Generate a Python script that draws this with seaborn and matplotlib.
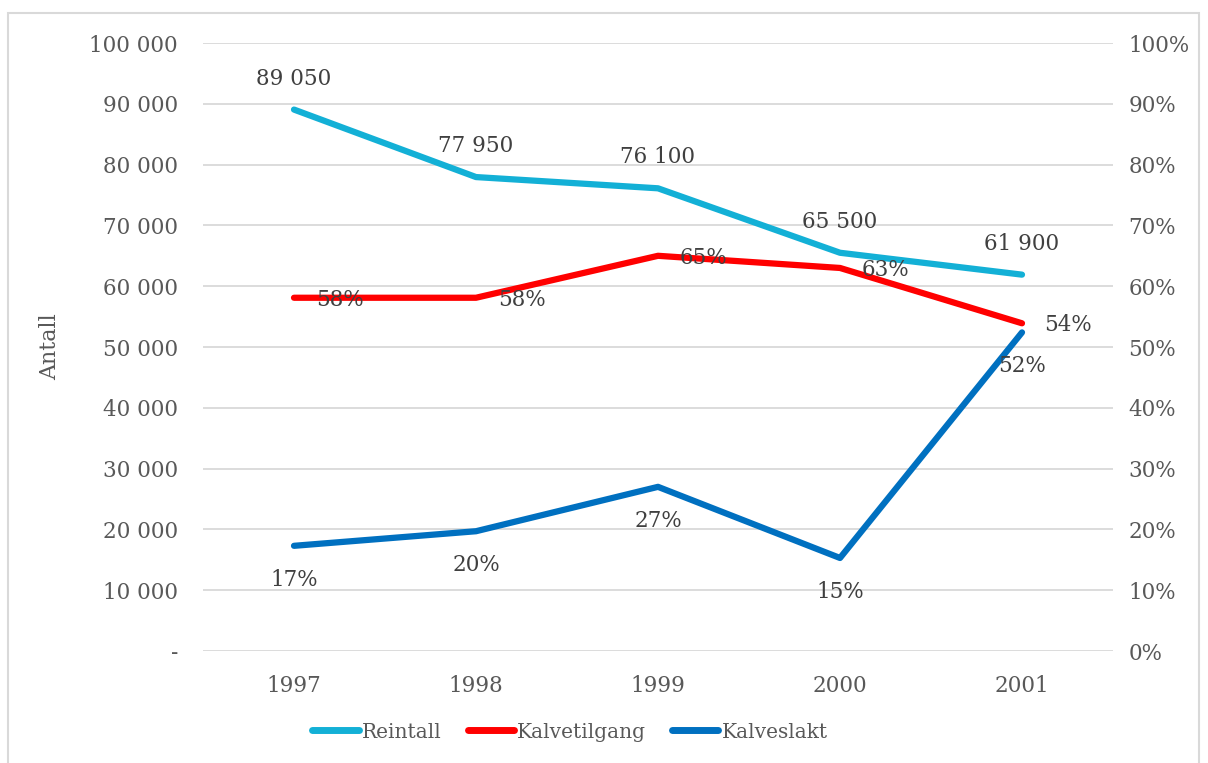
import matplotlib
matplotlib.use("Agg")
import matplotlib.pyplot as plt
import matplotlib.patches as mpatches
import seaborn as sns
import pandas as pd

years = ["1997", "1998", "1999", "2000", "2001"]
reintall = [89050, 77950, 76100, 65500, 61900]
kalvetilgang = [58.1, 58.1, 65.0, 63.0, 53.9]
kalveslakt = [17.3, 19.7, 27.0, 15.3, 52.4]

c_rein = "#13B0D6"
c_tilg = "#FF0000"
c_slakt = "#0070C0"
txt = "#595959"
lab = "#404040"

sns.set_theme(style="white")
plt.rcParams["font.family"] = ["DejaVu Serif"]

df = pd.DataFrame({"year": years, "Reintall": reintall,
                   "Kalvetilgang": kalvetilgang, "Kalveslakt": kalveslakt})
df["x"] = range(len(years))

fig = plt.figure(figsize=(12.08, 7.63), dpi=100)
ax = fig.add_axes([203 / 1208, 1 - 651 / 763, 910 / 1208, 608 / 763])
ax2 = ax.twinx()

sns.lineplot(data=df, x="x", y="Reintall", ax=ax, color=c_rein, linewidth=4.5,
             solid_capstyle="round", label="Reintall", legend=False)
sns.lineplot(data=df, x="x", y="Kalvetilgang", ax=ax2, color=c_tilg, linewidth=4.5,
             solid_capstyle="round", label="Kalvetilgang", legend=False)
sns.lineplot(data=df, x="x", y="Kalveslakt", ax=ax2, color=c_slakt, linewidth=4.5,
             solid_capstyle="round", label="Kalveslakt", legend=False)

ax.set_xlim(-0.5, len(years) - 0.5)
ax.set_ylim(0, 100000)
ax2.set_ylim(0, 100)
ax.set_yticks(range(0, 100001, 10000))
ax.set_yticklabels(["-"] + [f"{v:,}".replace(",", " ") for v in range(10000, 100001, 10000)])
ax2.set_yticks(range(0, 101, 10))
ax2.set_yticklabels([f"{v}%" for v in range(0, 101, 10)])
ax.set_xticks(df["x"])
ax.set_xticklabels(years)
ax.grid(axis="y", color="#D9D9D9", linewidth=1.3)
ax.set_axisbelow(True)
ax.set_xlabel("")
ax.set_ylabel("Antall", fontsize=16, color=txt, labelpad=20)
ax2.set_ylabel("")
for a in (ax, ax2):
    for s in a.spines.values():
        s.set_visible(False)
    a.tick_params(length=0, labelsize=15.5, colors=txt)
ax.tick_params(axis="y", pad=18)
ax.tick_params(axis="x", pad=17)
ax2.tick_params(axis="y", pad=11)

for i, v in enumerate(reintall):
    ax.annotate(f"{v:,}".replace(",", " "), (i, v), xytext=(0, 31),
                textcoords="offset pixels", ha="center", va="center",
                fontsize=15.5, color=lab)
for i, v in enumerate(kalvetilgang):
    ax2.annotate(f"{round(v)}%", (i, v), xytext=(22, -2),
                 textcoords="offset pixels", ha="left", va="center",
                 fontsize=15.5, color=lab)
for i, v in enumerate(kalveslakt):
    ax2.annotate(f"{round(v)}%", (i, v), xytext=(0, -34),
                 textcoords="offset pixels", ha="center", va="center",
                 fontsize=15.5, color=lab)

h1, l1 = ax.get_legend_handles_labels()
h2, l2 = ax2.get_legend_handles_labels()
leg = fig.legend(h1 + h2, l1 + l2, loc="center", bbox_to_anchor=(570 / 1208, 1 - 732 / 763),
                 ncol=3, frameon=False, fontsize=14.5, handlelength=2.3, handletextpad=0.15,
                 columnspacing=1.3, labelcolor=txt)
for line in leg.get_lines():
    line.set_linewidth(5)

fig.patches.append(mpatches.Rectangle((8 / 1208, -0.01), 1191 / 1208, 1 - 13 / 763 + 0.01,
                                      transform=fig.transFigure, fill=False,
                                      edgecolor="#D9D9D9", linewidth=1.5))

fig.savefig("out.png", dpi=100)
